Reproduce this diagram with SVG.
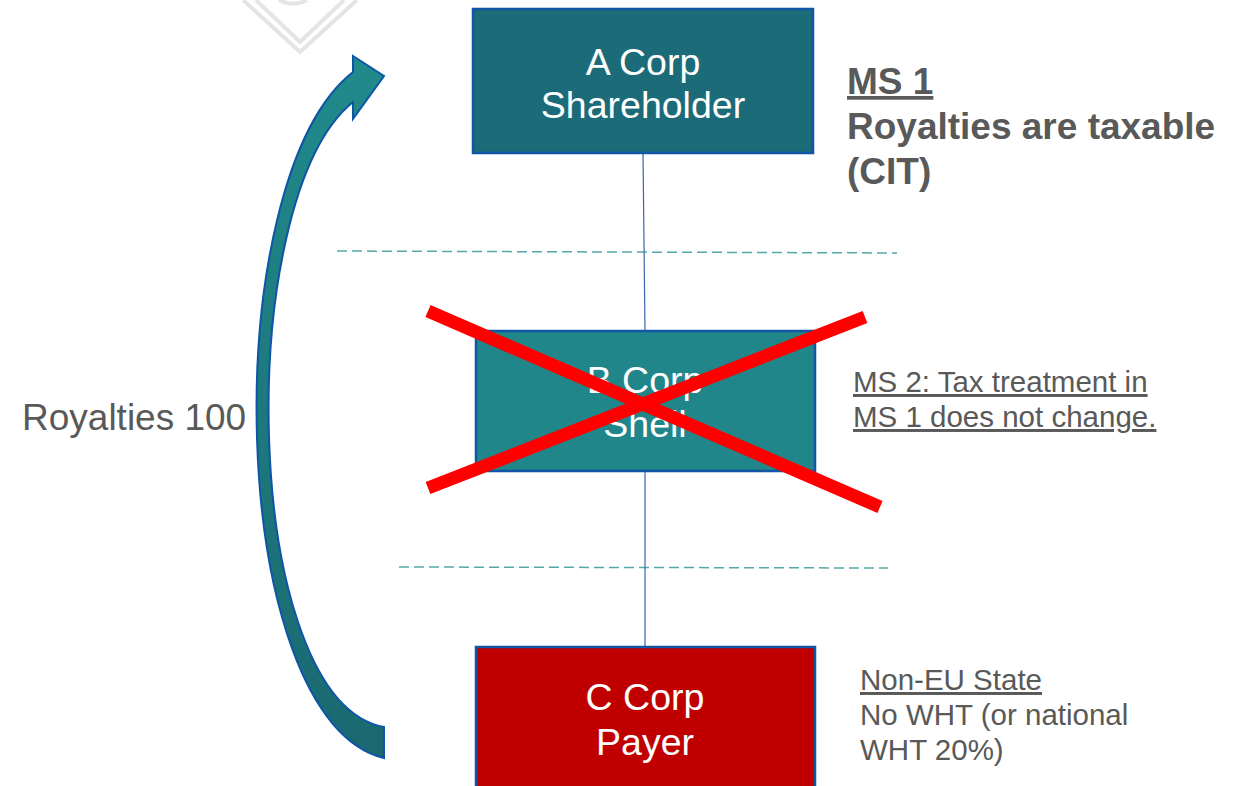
<svg xmlns="http://www.w3.org/2000/svg" width="1234" height="786" viewBox="0 0 1234 786">
<defs>
<linearGradient id="arrowGrad" x1="0" y1="0" x2="0" y2="1">
<stop offset="0" stop-color="#218a8a"/>
<stop offset="1" stop-color="#1a6870"/>
</linearGradient>
</defs>
<style>
.box{stroke:#1155a5;stroke-width:2.5}
.lbl{font-family:"Liberation Sans",Arial,sans-serif;font-size:37.5px;fill:#ffffff;text-anchor:middle}
.note{font-family:"Liberation Sans",Arial,sans-serif;font-size:29.5px;fill:#595959}
.bold{font-family:"Liberation Sans",Arial,sans-serif;font-size:37px;font-weight:bold;fill:#595959}
.conn{stroke:#3d62ad;stroke-width:1.2;fill:none}
.dash{stroke:#2a9090;stroke-width:1.5;stroke-dasharray:10 5;fill:none;opacity:0.8}
.wm{stroke:#e4e4e4;stroke-width:4;fill:none}
.cross{stroke:#ff0000;stroke-width:13;stroke-linecap:butt}
</style>
<rect width="1234" height="786" fill="#ffffff"/>
<g id="watermark">
<polyline class="wm" points="243,0 300,52 357,0"/>
<polyline class="wm" points="256,0 300,42 344,0"/>
<path class="wm" d="M279,0 A30,30 0 0 0 307,0"/>
</g>
<g id="connectors">
<line class="conn" x1="643" y1="153" x2="645" y2="331"/>
<line class="conn" x1="645" y1="471" x2="645" y2="647"/>
<line class="dash" x1="337" y1="251" x2="897" y2="253"/>
<line class="dash" x1="399" y1="567" x2="888" y2="568"/>
<path id="royalty-arrow" d="M384,758 C225,720 215,180 353,72 L353,56 L384,76 L353,119 L353,102 C232,200 240,700 384,727 Z" fill="url(#arrowGrad)" stroke="#0d55a8" stroke-width="2"/>
</g>
<g id="node-a">
<rect class="box" x="473" y="9" width="340" height="144" fill="#1b6b78"/>
<text class="lbl" x="643" y="75">A Corp</text>
<text class="lbl" x="643" y="118">Shareholder</text>
</g>
<g id="node-b">
<rect class="box" x="476" y="331" width="339" height="140" fill="#208689"/>
<text class="lbl" x="645" y="393">B Corp</text>
<text class="lbl" x="645" y="437">Shell</text>
</g>
<g id="node-c">
<rect class="box" x="476" y="647" width="339" height="160" fill="#c00000"/>
<text class="lbl" x="645" y="710">C Corp</text>
<text class="lbl" x="645" y="755">Payer</text>
</g>
<g id="cross">
<line class="cross" x1="428" y1="311" x2="880" y2="507"/>
<line class="cross" x1="428" y1="488" x2="865" y2="317"/>
</g>
<g id="labels">
<text class="note" x="22" y="430" style="font-size:37px">Royalties 100</text>
<text class="bold" x="847" y="94" text-decoration="underline">MS 1</text>
<text class="bold" x="847" y="139">Royalties are taxable</text>
<text class="bold" x="847" y="184">(CIT)</text>
<text class="note" x="853" y="392" text-decoration="underline">MS 2: Tax treatment in</text>
<text class="note" x="853" y="427" text-decoration="underline">MS 1 does not change.</text>
<text class="note" x="860" y="690" text-decoration="underline">Non-EU State</text>
<text class="note" x="860" y="725">No WHT (or national</text>
<text class="note" x="860" y="760">WHT 20%)</text>
</g>
</svg>
